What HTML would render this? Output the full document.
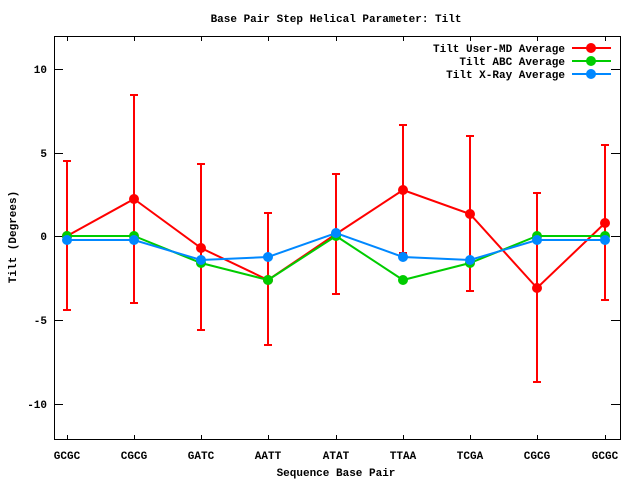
<!DOCTYPE html>
<html><head><meta charset="utf-8"><style>
body{margin:0;background:#fff}
svg text{font-family:"Liberation Mono","DejaVu Sans Mono",monospace;font-weight:bold;font-size:11px;fill:#000}
</style></head><body>
<svg width="640" height="480" xmlns="http://www.w3.org/2000/svg">
<rect width="640" height="480" fill="#fff"/>
<rect x="54.5" y="36.5" width="566" height="403" fill="none" stroke="#000" stroke-width="1"/>
<g stroke="#000" stroke-width="1">
<line x1="54" y1="69.5" x2="63" y2="69.5"/><line x1="620" y1="69.5" x2="611" y2="69.5"/>
<line x1="54" y1="153.5" x2="63" y2="153.5"/><line x1="620" y1="153.5" x2="611" y2="153.5"/>
<line x1="54" y1="236.5" x2="63" y2="236.5"/><line x1="620" y1="236.5" x2="611" y2="236.5"/>
<line x1="54" y1="320.5" x2="63" y2="320.5"/><line x1="620" y1="320.5" x2="611" y2="320.5"/>
<line x1="54" y1="404.5" x2="63" y2="404.5"/><line x1="620" y1="404.5" x2="611" y2="404.5"/>
<path d="M67.5,440v-5M134.5,440v-5M201.5,440v-5M268.5,440v-5M336.5,440v-5M403.5,440v-5M470.5,440v-5M537.5,440v-5M605.5,440v-5"/>
<path d="M67.5,36v5M134.5,36v5M201.5,36v5M268.5,36v5M336.5,36v5M403.5,36v5M470.5,36v5M537.5,36v5M605.5,36v5"/>
</g>
<g text-anchor="end">
<text x="47" y="73">10</text><text x="47" y="157">5</text><text x="47" y="240">0</text><text x="47" y="324">-5</text><text x="47" y="408">-10</text>
</g>
<g text-anchor="middle">
<text x="67" y="459">GCGC</text><text x="134" y="459">CGCG</text><text x="201" y="459">GATC</text><text x="268" y="459">AATT</text><text x="336" y="459">ATAT</text><text x="403" y="459">TTAA</text><text x="470" y="459">TCGA</text><text x="537" y="459">CGCG</text><text x="605" y="459">GCGC</text>
<text x="336" y="22">Base Pair Step Helical Parameter: Tilt</text>
<text x="336" y="476">Sequence Base Pair</text>
<text transform="translate(16,237) rotate(-90)">Tilt (Degrees)</text>
</g>
<g stroke="#f00" stroke-width="2" fill="none">
<path d="M67,161V310M63,161h8M63,310h8"/>
<path d="M134,95V303M130,95h8M130,303h8"/>
<path d="M201,164V330M197,164h8M197,330h8"/>
<path d="M268,213V345M264,213h8M264,345h8"/>
<path d="M336,174V294M332,174h8M332,294h8"/>
<path d="M403,125V253M399,125h8M399,253h8"/>
<path d="M470,136V291M466,136h8M466,291h8"/>
<path d="M537,193V382M533,193h8M533,382h8"/>
<path d="M605,145V300M601,145h8M601,300h8"/>
<polyline points="67,236 134,199 201,248 268,280 336,234 403,190 470,214 537,288 605,223"/>
</g>
<g fill="#f00"><circle cx="67" cy="236" r="5"/><circle cx="134" cy="199" r="5"/><circle cx="201" cy="248" r="5"/><circle cx="268" cy="280" r="5"/><circle cx="336" cy="234" r="5"/><circle cx="403" cy="190" r="5"/><circle cx="470" cy="214" r="5"/><circle cx="537" cy="288" r="5"/><circle cx="605" cy="223" r="5"/></g>
<polyline fill="none" stroke="#0c0" stroke-width="2" points="67,236 134,236 201,263 268,280 336,236 403,280 470,263 537,236 605,236"/>
<g fill="#0c0"><circle cx="67" cy="236" r="5"/><circle cx="134" cy="236" r="5"/><circle cx="201" cy="263" r="5"/><circle cx="268" cy="280" r="5"/><circle cx="336" cy="236" r="5"/><circle cx="403" cy="280" r="5"/><circle cx="470" cy="263" r="5"/><circle cx="537" cy="236" r="5"/><circle cx="605" cy="236" r="5"/></g>
<polyline fill="none" stroke="#08f" stroke-width="2" points="67,240 134,240 201,260 268,257 336,233 403,257 470,260 537,240 605,240"/>
<g fill="#08f"><circle cx="67" cy="240" r="5"/><circle cx="134" cy="240" r="5"/><circle cx="201" cy="260" r="5"/><circle cx="268" cy="257" r="5"/><circle cx="336" cy="233" r="5"/><circle cx="403" cy="257" r="5"/><circle cx="470" cy="260" r="5"/><circle cx="537" cy="240" r="5"/><circle cx="605" cy="240" r="5"/></g>
<g text-anchor="end">
<text x="565" y="52">Tilt User-MD Average</text>
<text x="565" y="65">Tilt ABC Average</text>
<text x="565" y="78">Tilt X-Ray Average</text>
</g>
<line x1="572" y1="48" x2="611" y2="48" stroke="#f00" stroke-width="2"/><circle cx="591" cy="48" r="5" fill="#f00"/>
<line x1="572" y1="61" x2="611" y2="61" stroke="#0c0" stroke-width="2"/><circle cx="591" cy="61" r="5" fill="#0c0"/>
<line x1="572" y1="74" x2="611" y2="74" stroke="#08f" stroke-width="2"/><circle cx="591" cy="74" r="5" fill="#08f"/>
</svg>
</body></html>
